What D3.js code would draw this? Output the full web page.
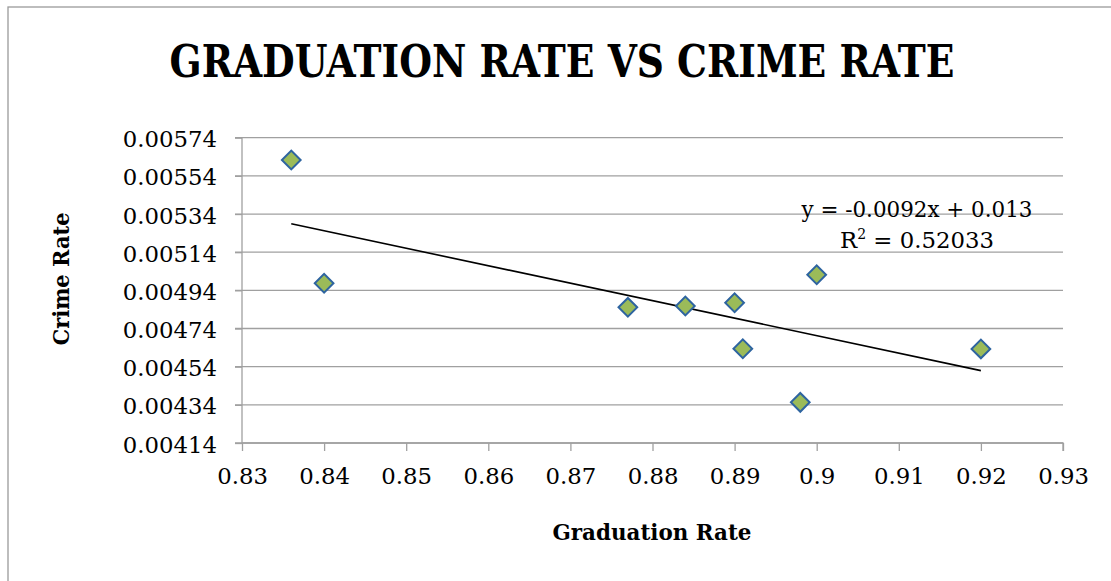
<!DOCTYPE html>
<html>
<head>
<meta charset="utf-8">
<script src="https://cdn.jsdelivr.net/npm/d3@7"></script>
<style>
  body { margin: 0; background: #fff; }
  .tick text { font-family: "DejaVu Serif", serif; font-size: 22.8px; fill: #000; }
</style>
</head>
<body>
<div class="chart"></div>
<script>
var svgWidth = 1111;
var svgHeight = 581;

// data
var gradRate = [0.836, 0.84, 0.877, 0.884, 0.89, 0.891, 0.898, 0.9, 0.92];
var crimeRate = [0.005623, 0.004977, 0.004851, 0.004858, 0.004875, 0.004634, 0.004353, 0.005022, 0.004633];
var xTicks = [0.83, 0.84, 0.85, 0.86, 0.87, 0.88, 0.89, 0.9, 0.91, 0.92, 0.93];
var yTicks = [0.00414, 0.00434, 0.00454, 0.00474, 0.00494, 0.00514, 0.00534, 0.00554, 0.00574];
var eqLabel = "y = -0.0092x + 0.013";
var r2Label = "0.52033";

var margin = { top: 137.7, right: 48, bottom: 138, left: 242 };
var width = svgWidth - margin.left - margin.right;
var height = svgHeight - margin.top - margin.bottom;

var svg = d3.select(".chart")
  .append("svg")
  .attr("width", svgWidth)
  .attr("height", svgHeight);

// outer frame (only left and top visible)
svg.append("rect")
  .attr("x", 8).attr("y", 7)
  .attr("width", 1200).attr("height", 700)
  .attr("fill", "none")
  .attr("stroke", "#9a9a9a")
  .attr("stroke-width", 1.3);

var chartGroup = svg.append("g")
  .attr("transform", `translate(${margin.left}, ${margin.top})`);

var x = d3.scaleLinear().domain([0.83, 0.93]).range([0, width]);
var y = d3.scaleLinear().domain([0.00414, 0.00574]).range([height, 0]);

// gridlines
chartGroup.append("g")
  .selectAll("line")
  .data(yTicks)
  .enter()
  .append("line")
  .attr("x1", -7)
  .attr("x2", width)
  .attr("y1", d => y(d))
  .attr("y2", d => y(d))
  .attr("stroke", "#a0a0a0")
  .attr("stroke-width", 1.3);

// y axis
var leftAxis = d3.axisLeft(y).tickValues(yTicks).tickFormat(d => d3.format(".5f")(d)).tickSize(7).tickPadding(18);
var yAxis = chartGroup.append("g").call(leftAxis);

// x axis
var bottomAxis = d3.axisBottom(x).tickValues(xTicks).tickFormat(d => d3.format("")(+d.toFixed(2))).tickSize(8).tickPadding(17);
var xAxis = chartGroup.append("g")
  .attr("transform", `translate(0, ${height})`)
  .call(bottomAxis);

[xAxis, yAxis].forEach(function(ax) {
  ax.select(".domain").attr("stroke", "#a0a0a0").attr("stroke-width", 1.3);
  ax.selectAll(".tick line").attr("stroke", "#a0a0a0").attr("stroke-width", 1.3);
});
xAxis.select(".domain").attr("d", `M0,0H${width}V8`);
yAxis.select(".domain").attr("d", `M0,0V${height}`);
yAxis.selectAll(".tick text").attr("dy", "0.4em");

// linear trend (least squares)
var mx = d3.mean(gradRate), my = d3.mean(crimeRate);
var sxy = d3.sum(gradRate, (v, i) => (v - mx) * (crimeRate[i] - my));
var sxx = d3.sum(gradRate, v => (v - mx) * (v - mx));
var slope = sxy / sxx;
var icpt = my - slope * mx;
var xEnds = d3.extent(gradRate);

chartGroup.append("line")
  .attr("x1", x(xEnds[0]))
  .attr("y1", y(slope * xEnds[0] + icpt))
  .attr("x2", x(xEnds[1]))
  .attr("y2", y(slope * xEnds[1] + icpt))
  .attr("stroke", "#000")
  .attr("stroke-width", 1.6);

// points
var diamond = d3.symbol().type(d3.symbolSquare).size(175);
chartGroup.selectAll(".pt")
  .data(gradRate)
  .enter()
  .append("path")
  .attr("class", "pt")
  .attr("d", diamond)
  .attr("transform", (d, i) => `translate(${x(d)}, ${y(crimeRate[i])}) rotate(45)`)
  .attr("fill", "#9bbb59")
  .attr("stroke", "#2e64a0")
  .attr("stroke-width", 2);

// equation label
svg.append("text")
  .attr("x", 917).attr("y", 217)
  .attr("text-anchor", "middle")
  .style("font-family", "DejaVu Serif, serif")
  .style("font-size", "22.8px")
  .attr("textLength", 231)
  .attr("lengthAdjust", "spacingAndGlyphs")
  .text(eqLabel);

var r2 = svg.append("text")
  .attr("x", 917).attr("y", 248)
  .attr("text-anchor", "middle")
  .style("font-family", "DejaVu Serif, serif")
  .style("font-size", "22.8px");
r2.append("tspan").text("R");
r2.append("tspan").attr("dy", -9).style("font-size", "14px").text("2");
r2.append("tspan").attr("dy", 9).text(" = " + r2Label);

// title
svg.append("text")
  .attr("x", 562).attr("y", 77)
  .attr("text-anchor", "middle")
  .style("font-family", "DejaVu Serif, serif")
  .style("font-weight", "bold")
  .style("font-size", "45px")
  .attr("textLength", 785)
  .attr("lengthAdjust", "spacingAndGlyphs")
  .text("GRADUATION RATE VS CRIME RATE");

// axis titles
svg.append("text")
  .attr("x", 652).attr("y", 540)
  .attr("text-anchor", "middle")
  .style("font-family", "DejaVu Serif, serif")
  .style("font-weight", "bold")
  .style("font-size", "22px")
  .attr("textLength", 199)
  .attr("lengthAdjust", "spacingAndGlyphs")
  .text("Graduation Rate");

svg.append("text")
  .attr("transform", "translate(69, 279) rotate(-90)")
  .attr("text-anchor", "middle")
  .style("font-family", "DejaVu Serif, serif")
  .style("font-weight", "bold")
  .style("font-size", "22px")
  .attr("textLength", 133)
  .attr("lengthAdjust", "spacingAndGlyphs")
  .text("Crime Rate");
</script>
</body>
</html>
